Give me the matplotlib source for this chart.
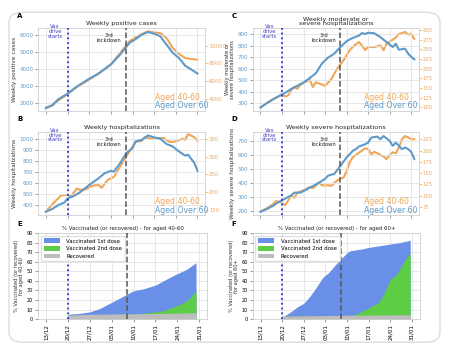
import numpy as np
import matplotlib.pyplot as plt
from matplotlib.patches import FancyBboxPatch

# x axis: days counted from 13/12
tick_days = [0, 7, 14, 21, 28, 35, 42, 49]
tick_labels = ['13/12', '20/12', '27/12', '03/01', '10/01', '17/01', '24/01', '31/01']
vax_day = 7
lockdown_day = 26

# A - weekly positive cases
pos_o60_days = [0, 2, 4, 7, 10, 14, 17, 21, 24, 27, 29, 31, 33, 35, 37, 39, 41, 43, 45, 47, 49]
pos_o60 = [1700, 1840, 2200, 2530, 2950, 3420, 3730, 4270, 4860, 5550, 5780, 6040, 6200,
           6100, 5940, 5450, 4960, 4660, 4200, 3970, 3730]
pos_40_days = [0, 2, 4, 7, 10, 14, 17, 21, 24, 27, 29, 31, 33, 35, 37, 39, 41, 43, 45, 47, 49]
pos_40 = [2870, 3210, 3770, 4530, 5320, 6150, 6830, 7850, 9170, 10490, 10940, 11320, 11620,
          11510, 11430, 10870, 9740, 9090, 8600, 8490, 8420]

# B - weekly hospitalizations
hosp_o60_days = [0, 2, 4, 6, 7, 9, 11, 14, 17, 19, 21, 22, 24, 26, 28, 29, 31, 33, 35, 37,
                 39, 41, 43, 45, 46, 48, 49]
hosp_o60 = [340, 364, 400, 424, 460, 482, 515, 582, 642, 688, 710, 703, 779, 870, 915, 976,
            990, 1030, 1012, 1000, 952, 930, 885, 848, 855, 780, 710]
hosp_40_days = [0, 2, 3, 5, 7, 8, 10, 11, 13, 15, 17, 18, 20, 22, 24, 26, 28, 29, 31, 32, 34,
                36, 38, 40, 42, 44, 45, 46, 48, 49]
hosp_40 = [145, 165, 174, 191, 193, 187, 210, 206, 208, 218, 220, 212, 234, 243, 272, 300,
           328, 341, 344, 354, 350, 352, 352, 341, 342, 350, 347, 363, 354, 344]

# C - weekly moderate or severe hospitalizations
mod_o60_days = [0, 2, 4, 6, 8, 10, 12, 14, 16, 18, 20, 22, 24, 26, 28, 30, 32, 33, 34, 35,
                37, 39, 41, 43, 44, 45, 47, 48, 49, 50]
mod_o60 = [263, 300, 333, 362, 390, 424, 452, 480, 518, 560, 645, 696, 730, 787, 838, 866,
           886, 908, 900, 911, 906, 872, 829, 787, 815, 764, 773, 730, 702, 680]
mod_40_days = [0, 2, 4, 6, 7, 8, 9, 10, 11, 12, 13, 14, 16, 17, 18, 20, 21, 23, 25, 27, 29,
               30, 31, 32, 33, 34, 35, 37, 39, 40, 41, 43, 44, 45, 46, 47, 48, 49, 50]
mod_40 = [100, 111, 121, 129, 135, 128, 131, 145, 153, 148, 159, 163, 172, 153, 165, 159,
          156, 173, 201, 222, 248, 256, 263, 269, 260, 248, 256, 256, 260, 248, 265, 275,
          281, 290, 292, 295, 288, 290, 277]

# D - weekly severe hospitalizations
sev_o60_days = [0, 2, 4, 6, 7, 8, 10, 11, 13, 15, 17, 19, 21, 22, 24, 26, 28, 30, 31, 32,
                34, 35, 36, 38, 39, 40, 42, 43, 44, 46, 47, 48, 49, 50]
sev_o60 = [193, 212, 235, 264, 275, 287, 311, 330, 330, 353, 377, 400, 429, 452, 464, 523,
           582, 629, 641, 660, 676, 688, 724, 731, 712, 735, 700, 665, 688, 641, 653, 641,
           622, 570]
sev_40_days = [0, 2, 4, 5, 7, 8, 10, 11, 12, 14, 16, 17, 18, 19, 20, 22, 23, 25, 26, 27, 28,
               29, 30, 31, 33, 34, 35, 36, 37, 38, 39, 40, 41, 42, 43, 44, 45, 46, 47, 48,
               49, 50]
sev_40 = [65, 72, 81, 88, 85, 79, 100, 95, 107, 112, 119, 117, 122, 130, 123, 123, 122, 134,
          138, 140, 154, 174, 185, 190, 200, 205, 203, 192, 197, 194, 190, 187, 181, 190,
          196, 194, 207, 225, 232, 229, 225, 225]

# E - vaccinated aged 40-60 (%)
e_first_days = [7, 10.8, 14, 17.2, 21, 24.2, 27, 28, 31, 35, 38.7, 41, 43, 45, 48]
e_first = [5, 6, 7.5, 11, 17.5, 23, 28, 29.5, 31.5, 35.5, 42, 46, 49, 52, 59]
e_second_days = [7, 28, 31, 35, 38, 41, 43, 45, 46, 47, 48]
e_second = [4, 5, 6, 7.5, 9, 13, 15.5, 19, 22, 26, 30]
e_recov_days = [7, 14, 28, 48]
e_recov = [4, 5, 5.5, 6.5]

# F - vaccinated aged 60+ (%)
f_first_days = [7, 8, 10, 12, 14, 16, 18, 20, 21, 22, 24, 26, 28, 29, 31, 33, 35, 38, 42,
                45, 48.4]
f_first = [2, 4, 8, 13, 16.5, 24, 33, 43, 46, 48.5, 56, 63, 69.5, 71.5, 72.5, 73.5, 75,
           76.5, 78.5, 80, 82.5]
f_second_days = [7, 28, 30, 31, 32, 34, 36, 38, 40, 41, 42, 43, 44, 45, 46, 47, 48, 48.4]
f_second = [3, 3.5, 4, 5, 7, 10, 13.5, 17, 27, 35, 42, 44, 47, 52, 58, 63, 68, 69.5]
f_recov_days = [7, 28, 48.4]
f_recov = [3, 4, 4.5]

C_O60 = '#5e9ac9'
C_40 = '#f0a658'
C_VAX = '#2a2ad8'
FS = 4.0   # tick labels

plt.rcParams['font.family'] = 'DejaVu Sans'

fig = plt.figure(figsize=(4.49, 3.51), dpi=100)
fig.patches.append(FancyBboxPatch((0.02, 0.025), 0.96, 0.94, boxstyle='round,pad=0,rounding_size=0.03',
                                  transform=fig.transFigure, fc='none', ec='#d8dde3', lw=1.0,
                                  zorder=-5))


def style_axes(ax):
    ax.set_xlim(-2.5, 51.5)
    ax.set_xticks(tick_days)
    ax.grid(True, color='#e3e3e3', lw=0.6)
    ax.set_axisbelow(True)
    for s in ax.spines.values():
        s.set_color('#d0d0d0')
        s.set_linewidth(0.6)
    ax.tick_params(length=2, width=0.5, color='#777777', labelsize=FS, pad=1.5)


def events(ax):
    ax.axvline(vax_day, color=C_VAX, ls=':', lw=1.3, zorder=4)
    ax.axvline(lockdown_day, color='#555555', ls='--', lw=1.1, zorder=4)
    ax.text(3.0, 1.05, 'Vax\ndrive\nstarts', transform=ax.get_xaxis_transform(), ha='center',
            va='top', fontsize=3.8, color='#4040c0', linespacing=0.95)
    ax.text(20.5, 0.94, '3rd\nlockdown', transform=ax.get_xaxis_transform(), ha='center',
            va='top', fontsize=3.8, color='#222222', linespacing=0.95)


def twin_panel(rect, letter, title, ylabel, lab_fs, d60, v60, d40, v40,
               ylim_l, yt_l, ylim_r, yt_r, tx):
    ax = fig.add_axes(rect)
    style_axes(ax)
    ax.set_xticklabels([])
    ax2 = ax.twinx()
    ax.plot(d60, v60, color=C_O60, lw=1.5, zorder=3)
    ax2.plot(d40, v40, color=C_40, lw=1.5, zorder=2)
    ax.set_zorder(2)
    ax.patch.set_visible(False)
    ax.set_ylim(*ylim_l)
    ax.set_yticks(yt_l)
    ax2.set_ylim(*ylim_r)
    ax2.set_yticks(yt_r)
    for s in ax2.spines.values():
        s.set_visible(False)
    ax.tick_params(axis='y', labelcolor=C_O60)
    ax2.tick_params(axis='y', length=2, width=0.5, color=C_40, labelcolor=C_40, labelsize=3.8, pad=0.8)
    ax.set_title(title, fontsize=4.6, pad=2, color='#222222', linespacing=0.95)
    ax.set_ylabel(ylabel, fontsize=lab_fs, labelpad=2, color='#333333', linespacing=0.9)
    events(ax)
    ax.text(tx, 0.16, 'Aged 40-60', transform=ax.transAxes, color=C_40, fontsize=5.6, va='center')
    ax.text(tx, 0.06, 'Aged Over 60', transform=ax.transAxes, color=C_O60, fontsize=5.6, va='center')
    fig.text(rect[0] - 0.047, rect[1] + rect[3] + 0.03, letter, fontsize=5, fontweight='bold')
    return ax


def vacc_panel(rect, letter, title, ylabel, d1, v1, d2, v2, dr, vr):
    ax = fig.add_axes(rect)
    style_axes(ax)
    ax.fill_between(d1, v1, 0, color='#6a8fe6', lw=0, label='Vaccinated 1st dose', zorder=2)
    ax.fill_between(d2, v2, 0, color='#5ccd45', lw=0, label='Vaccinated 2nd dose', zorder=2)
    ax.fill_between(dr, vr, 0, color='#bdbdbd', lw=0, label='Recovered', zorder=2)
    ax.set_ylim(0, 90)
    ax.set_yticks(range(0, 91, 10))
    ax.set_xticklabels(tick_labels, rotation=90)
    ax.axvline(vax_day, color=C_VAX, ls=':', lw=1.3, zorder=3)
    ax.axvline(lockdown_day, color='#555555', ls='--', lw=1.1, zorder=3)
    ax.tick_params(axis='y', labelsize=3.6)
    ax.set_title(title, fontsize=3.9, pad=2, color='#222222')
    ax.set_ylabel(ylabel, fontsize=3.7, labelpad=2, color='#333333', linespacing=0.9)
    ax.legend(loc='upper left', fontsize=3.9, frameon=True, framealpha=0.9, edgecolor='#dddddd',
              handlelength=3.0, handleheight=0.9, borderpad=0.5, labelspacing=0.45,
              handletextpad=1.2)
    fig.text(rect[0] - 0.047, rect[1] + rect[3] + 0.02, letter, fontsize=5, fontweight='bold')
    return ax


twin_panel([0.085, 0.684, 0.372, 0.236], 'A', 'Weekly positive cases', 'Weekly positive cases', 4.2,
           pos_o60_days, pos_o60, pos_40_days, pos_40,
           (1507, 6433), range(2000, 6001, 1000), (2604, 12000), range(4000, 10001, 2000), 0.7)
twin_panel([0.085, 0.387, 0.372, 0.237], 'B', 'Weekly hospitalizations', 'Weekly hospitalizations', 4.2,
           hosp_o60_days, hosp_o60, hosp_40_days, hosp_40,
           (309, 1061), range(400, 1001, 100), (135, 369), range(150, 351, 50), 0.7)
twin_panel([0.563, 0.684, 0.370, 0.236], 'C', 'Weekly moderate or\nsevere hospitalizations',
           'Weekly moderate or\nsevere hospitalizations', 3.7,
           mod_o60_days, mod_o60, mod_40_days, mod_40,
           (234, 951), range(300, 901, 100), (91, 305), range(100, 301, 25), 0.67)
twin_panel([0.563, 0.387, 0.370, 0.237], 'D', 'Weekly severe hospitalizations',
           'Weekly severe hospitalizations', 4.2,
           sev_o60_days, sev_o60, sev_40_days, sev_40,
           (169, 764), range(200, 701, 100), (57, 241), range(75, 226, 25), 0.67)

vacc_panel([0.085, 0.091, 0.376, 0.245], 'E', '% Vaccinated (or recovered) - for aged 40-60',
           '% Vaccinated (or recovered)\nfor aged 40-60',
           e_first_days, e_first, e_second_days, e_second, e_recov_days, e_recov)
vacc_panel([0.563, 0.091, 0.372, 0.245], 'F', '% Vaccinated (or recovered) - for aged 60+',
           '% Vaccinated (or recovered)\nfor aged 60+',
           f_first_days, f_first, f_second_days, f_second, f_recov_days, f_recov)

fig.savefig('out.png', dpi=100)
